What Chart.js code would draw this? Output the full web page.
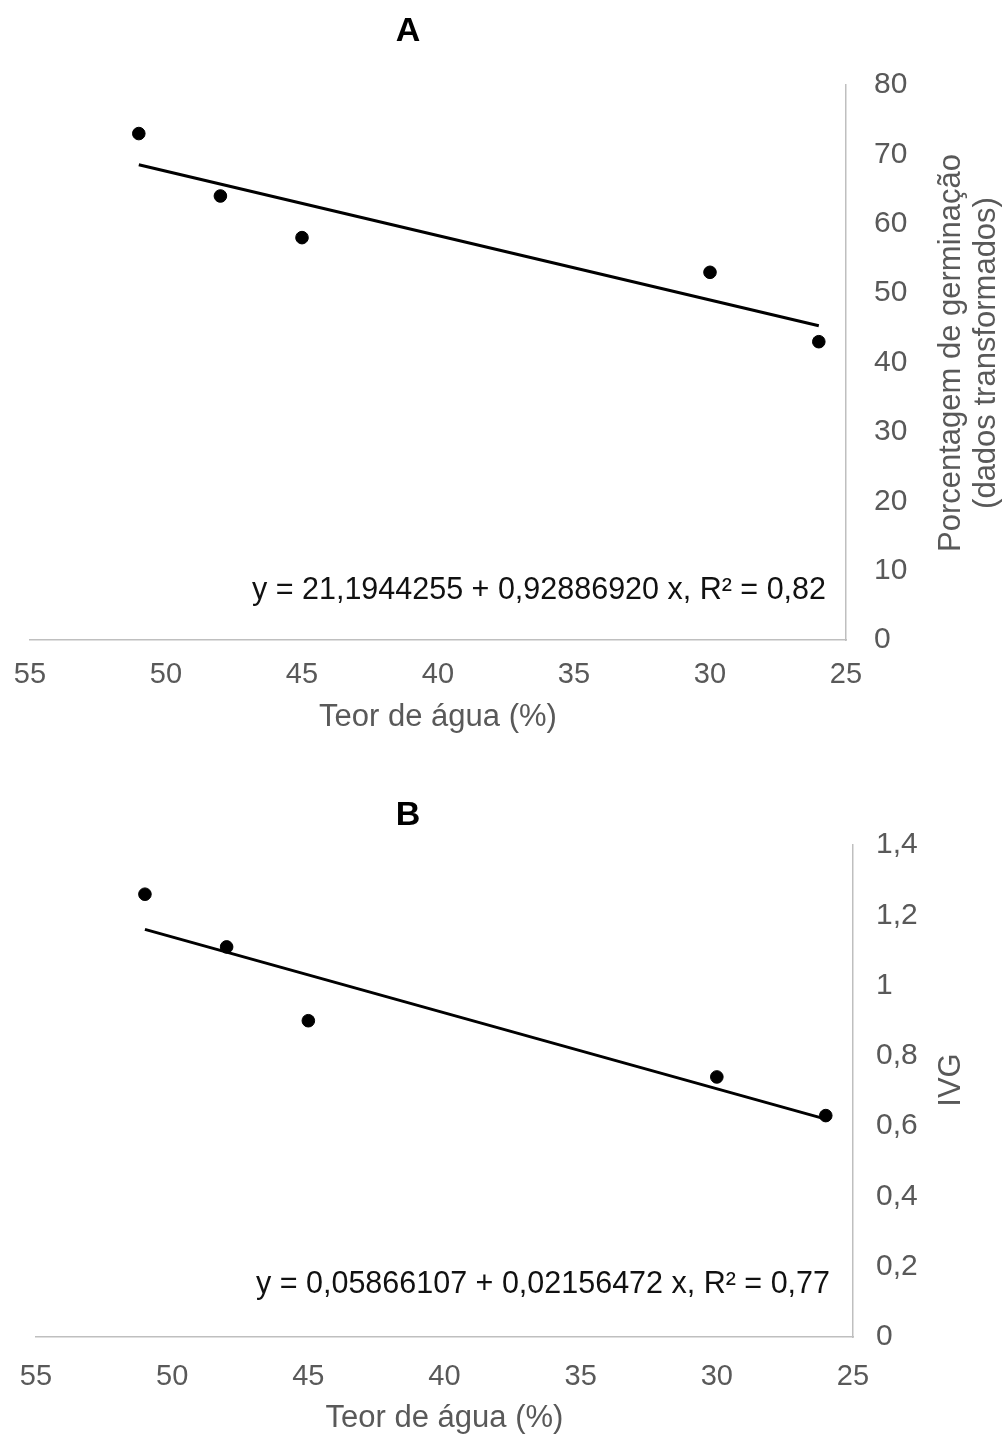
<!DOCTYPE html>
<html><head><meta charset="utf-8">
<script src="https://cdn.jsdelivr.net/npm/chart.js@4"></script>
<style>
html,body{margin:0;padding:0;background:#fff;}
#wrap{position:relative;width:1005px;height:1437px;background:#fff;}
.c{position:absolute;left:0;width:1005px;}
canvas{display:block;}
</style></head><body>
<div id="wrap">
<div class="c" style="top:0;height:740px"><canvas id="ca" width="1005" height="740"></canvas></div>
<div class="c" style="top:740px;height:697px"><canvas id="cb" width="1005" height="697"></canvas></div>
</div>
<script>
// ---- data ----
const xTicks = [55, 50, 45, 40, 35, 30, 25];
const xValues = [51, 48, 45, 30, 26];

const germinacao = [73, 64, 58, 53, 43];
const trendXA = [51, 26];
const trendYA = [68.5, 45.3];
const yTicksA = [0, 10, 20, 30, 40, 50, 60, 70, 80];
const yTickLabelsA = ['0', '10', '20', '30', '40', '50', '60', '70', '80'];

const ivg = [1.26, 1.11, 0.90, 0.74, 0.63];
const trendXB = [51, 26];
const trendYB = [1.16, 0.62];
const yTicksB = [0, 0.2, 0.4, 0.6, 0.8, 1, 1.2, 1.4];
const yTickLabelsB = ['0', '0,2', '0,4', '0,6', '0,8', '1', '1,2', '1,4'];

const titleA = 'A';
const titleB = 'B';
const xTitle = 'Teor de água (%)';
const yTitleA = ['Porcentagem de germinação', '(dados transformados)'];
const yTitleB = ['IVG'];
const eqA = 'y = 21,1944255 + 0,92886920 x, R² = 0,82';
const eqB = 'y = 0,05866107 + 0,02156472 x, R² = 0,77';

const FONT = '"Liberation Sans", Arial, Helvetica, sans-serif';
const GREY = '#595959';

const textPlugin = {
  id: 'texts',
  afterDraw(chart, args, o) {
    const ctx = chart.ctx;
    ctx.save();
    // panel title
    ctx.fillStyle = '#000';
    ctx.font = 'bold 34px ' + FONT;
    ctx.textAlign = 'center';
    ctx.textBaseline = 'middle';
    ctx.fillText(o.title, o.titleX, o.titleY);
    // equation
    ctx.font = '30.5px ' + FONT;
    ctx.textAlign = 'right';
    ctx.fillStyle = '#111';
    ctx.fillText(o.eq, o.eqX, o.eqY);
    // rotated y title
    ctx.fillStyle = GREY;
    ctx.font = '31px ' + FONT;
    ctx.textAlign = 'center';
    o.yTitle.forEach((line, i) => {
      ctx.save();
      ctx.translate(o.yTitleX + i * o.yTitleGap, o.yTitleY);
      ctx.rotate(-Math.PI / 2);
      ctx.fillText(line, 0, 0);
      ctx.restore();
    });
    ctx.restore();
  }
};

function makeChart(id, cfg) {
  const pts = cfg.xs.map((x, i) => ({x: x, y: cfg.ys[i]}));
  const trend = cfg.tx.map((x, i) => ({x: x, y: cfg.ty[i]}));
  return new Chart(document.getElementById(id), {
    type: 'scatter',
    data: {
      datasets: [
        {type: 'line', data: trend, borderColor: '#000', borderWidth: 3, pointRadius: 0, fill: false, order: 2},
        {data: pts, backgroundColor: '#000', borderColor: '#000', pointRadius: 6.3, pointHoverRadius: 6.3, order: 1}
      ]
    },
    options: {
      responsive: false,
      animation: false,
      events: [],
      layout: {padding: {left: cfg.left, top: cfg.top, right: 0, bottom: 0}},
      plugins: {
        legend: {display: false},
        tooltip: {enabled: false},
        texts: cfg.texts
      },
      scales: {
        x: {
          type: 'linear', min: 25, max: 55, reverse: true,
          afterBuildTicks(s) { s.ticks = xTicks.map(v => ({value: v})); },
          afterFit(s) { s.height = cfg.xH; s.paddingLeft = 0; s.paddingRight = 0; },
          grid: {display: false, drawTicks: false},
          border: {display: true, color: '#bfbfbf', width: 1.5},
          ticks: {color: GREY, font: {family: FONT, size: 29}, padding: cfg.xPad, maxRotation: 0, autoSkip: false,
                  callback: v => String(v)},
          title: {display: true, text: xTitle, color: GREY, font: {family: FONT, size: 31}, padding: {top: 0, bottom: cfg.xTitlePad}}
        },
        y: {
          type: 'linear', position: 'right', min: cfg.yTicks[0], max: cfg.yTicks[cfg.yTicks.length - 1],
          afterBuildTicks(s) { s.ticks = cfg.yTicks.map(v => ({value: v})); },
          afterFit(s) { s.width = cfg.yW; s.paddingTop = 0; s.paddingBottom = 0; },
          grid: {display: false, drawTicks: false},
          border: {display: true, color: '#bfbfbf', width: 1.5},
          ticks: {color: GREY, font: {family: FONT, size: 30}, padding: cfg.yPad, autoSkip: false,
                  callback: (v) => { const i = cfg.yTicks.findIndex(t => Math.abs(t - v) < 1e-9); return i >= 0 ? cfg.yLabels[i] : ''; }}
        }
      }
    },
    plugins: [textPlugin]
  });
}

makeChart('ca', {
  xs: xValues, ys: germinacao, tx: trendXA, ty: trendYA,
  yTicks: yTicksA, yLabels: yTickLabelsA,
  left: 30, top: 85, xH: 100, yW: 159, xPad: 18, xTitlePad: 4, yPad: 28,
  texts: {title: titleA, titleX: 408, titleY: 32, eq: eqA, eqX: 826, eqY: 591,
          yTitle: yTitleA, yTitleX: 951, yTitleGap: 35, yTitleY: 353}
});

makeChart('cb', {
  xs: xValues, ys: ivg, tx: trendXB, ty: trendYB,
  yTicks: yTicksB, yLabels: yTickLabelsB,
  left: 36, top: 105, xH: 100, yW: 152, xPad: 23, xTitlePad: 0, yPad: 23,
  texts: {title: titleB, titleX: 408, titleY: 76, eq: eqB, eqX: 830, eqY: 545,
          yTitle: yTitleB, yTitleX: 951, yTitleGap: 35, yTitleY: 340}
});
</script>
</body></html>
